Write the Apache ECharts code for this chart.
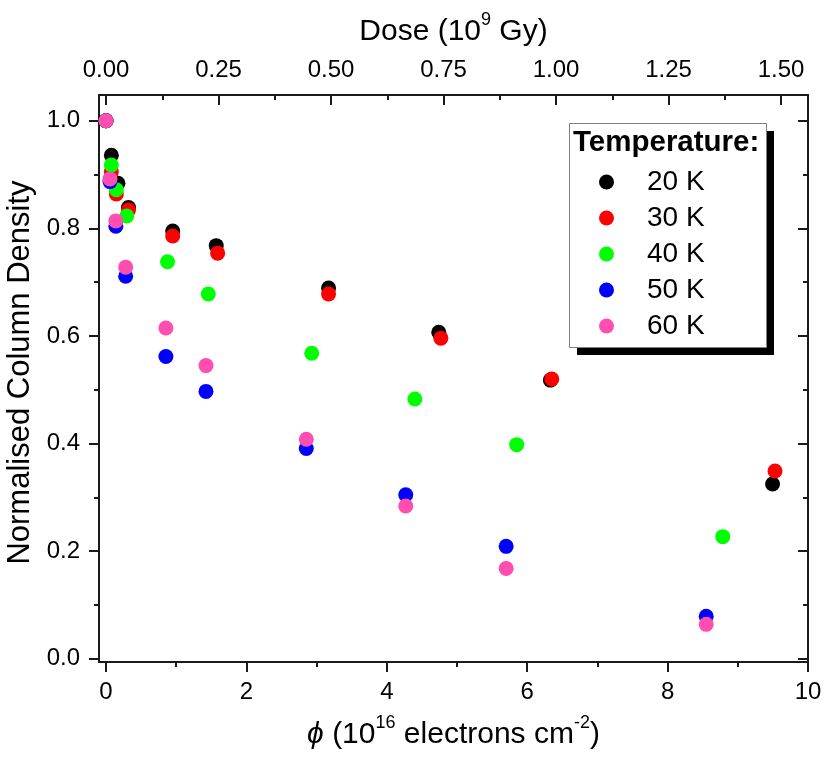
<!DOCTYPE html>
<html>
<head>
<meta charset="utf-8">
<script src="https://cdn.jsdelivr.net/npm/echarts@6/dist/echarts.min.js"></script>
<style>html,body{margin:0;padding:0;background:#fff;}#c{width:824px;height:758px;}</style>
</head>
<body>
<div id="c"></div>
<script>
// ---- data (phi in 1e16 electrons cm^-2, normalised column density) ----
var phi20 = [0, 0.076, 0.17, 0.32, 0.95, 1.57, 3.17, 4.74, 6.33, 9.495];
var val20 = [1.0, 0.936, 0.884, 0.839, 0.795, 0.768, 0.689, 0.607, 0.518, 0.325];
var phi30 = [0, 0.076, 0.147, 0.32, 0.95, 1.59, 3.17, 4.77, 6.35, 9.53];
var val30 = [1.0, 0.905, 0.864, 0.834, 0.786, 0.754, 0.678, 0.596, 0.520, 0.349];
var phi40 = [0, 0.076, 0.147, 0.295, 0.876, 1.457, 2.93, 4.40, 5.85, 8.786];
var val40 = [1.0, 0.918, 0.872, 0.823, 0.738, 0.678, 0.568, 0.483, 0.398, 0.227];
var phi50 = [0, 0.057, 0.14, 0.28, 0.853, 1.424, 2.853, 4.27, 5.70, 8.55];
var val50 = [1.0, 0.887, 0.804, 0.711, 0.562, 0.497, 0.391, 0.305, 0.209, 0.079];
var phi60 = [0, 0.057, 0.14, 0.28, 0.853, 1.424, 2.853, 4.27, 5.70, 8.55];
var val60 = [1.0, 0.892, 0.814, 0.728, 0.615, 0.545, 0.408, 0.284, 0.168, 0.064];

var seriesNames = ['20 K', '30 K', '40 K', '50 K', '60 K'];
var seriesColors = ['#000000', '#ff0000', '#00ff00', '#0000ff', '#ff4db0'];

// ---- tick labels ----
var xMajor = [0, 2, 4, 6, 8, 10];
var xMinor = [1, 3, 5, 7, 9];
var doseMajor = [0, 0.25, 0.5, 0.75, 1.0, 1.25, 1.5];
var doseMinor = [0.125, 0.375, 0.625, 0.875, 1.125, 1.375];
var yMajor = [0, 0.2, 0.4, 0.6, 0.8, 1.0];
var yMinor = [0.1, 0.3, 0.5, 0.7, 0.9];

var X_MIN = -0.1, X_MAX = 10;
var DOSE_PER_PHI = 0.156;
var Y_MIN = -0.006, Y_MAX = 1.048;

var FONT = "'Liberation Sans', Arial, Helvetica, sans-serif";
var lineS = {color: '#1a1a1a', width: 2};

function pairs(xs, ys) { return xs.map(function (x, i) { return [x, ys[i]]; }); }
var allX = [phi20, phi30, phi40, phi50, phi60];
var allY = [val20, val30, val40, val50, val60];

var series = seriesNames.map(function (n, i) {
  return {
    name: n, type: 'scatter', xAxisIndex: 0, yAxisIndex: 0,
    data: pairs(allX[i], allY[i]),
    symbol: 'circle', symbolSize: 15,
    itemStyle: {color: seriesColors[i], opacity: 1},
    emphasis: {disabled: true}
  };
});

// legend frame (decoration)
var LG = {x: 569, y: 123, w: 197, h: 224, sh: 8};

var chart = echarts.init(document.getElementById('c'), null, {renderer: 'canvas'});
var option = {
  backgroundColor: '#ffffff',
  animation: false,
  textStyle: {fontFamily: FONT},
  grid: {left: 99, right: 16, top: 95, bottom: 96, containLabel: false, outerBoundsMode: 'none'},
  xAxis: [
    {
      type: 'value', position: 'bottom', min: X_MIN, max: X_MAX,
      axisLine: {show: true, onZero: false, lineStyle: lineS},
      axisTick: {show: true, inside: false, length: 10, customValues: xMajor, lineStyle: lineS},
      axisLabel: {show: true, customValues: xMajor, fontSize: 24, color: '#000', margin: 18, fontFamily: FONT},
      splitLine: {show: false},
      name: '{i|ϕ} {n|(10}{s|16}{n| electrons cm}{s|-2}{n|)}',
      nameLocation: 'middle', nameGap: 52,
      nameTextStyle: {
        fontFamily: FONT, color: '#000', fontSize: 30,
        rich: {
          i: {fontSize: 30, fontStyle: 'italic', fontFamily: FONT, lineHeight: 36, verticalAlign: 'bottom'},
          n: {fontSize: 30, fontFamily: FONT, lineHeight: 36, verticalAlign: 'bottom'},
          s: {fontSize: 18, fontFamily: FONT, lineHeight: 20, verticalAlign: 'top'}
        }
      }
    },
    {
      type: 'value', position: 'bottom', min: X_MIN, max: X_MAX,
      axisLine: {show: false, onZero: false},
      axisTick: {show: true, inside: false, length: 5, customValues: xMinor, lineStyle: lineS},
      axisLabel: {show: false}, splitLine: {show: false}
    },
    {
      type: 'value', position: 'top', min: X_MIN * DOSE_PER_PHI, max: X_MAX * DOSE_PER_PHI,
      axisLine: {show: true, onZero: false, lineStyle: lineS},
      axisTick: {show: true, inside: true, length: 10, customValues: doseMajor, lineStyle: lineS},
      axisLabel: {show: true, customValues: doseMajor, fontSize: 24, color: '#000', margin: 13, fontFamily: FONT,
        formatter: function (v) { return v.toFixed(2); }},
      splitLine: {show: false},
      name: '{n|Dose (10}{s|9}{n| Gy)}',
      nameLocation: 'middle', nameGap: 48,
      nameTextStyle: {
        fontFamily: FONT, color: '#000', fontSize: 30,
        rich: {
          n: {fontSize: 30, fontFamily: FONT, lineHeight: 36, verticalAlign: 'bottom'},
          s: {fontSize: 18, fontFamily: FONT, lineHeight: 20, verticalAlign: 'top'}
        }
      }
    },
    {
      type: 'value', position: 'top', min: X_MIN * DOSE_PER_PHI, max: X_MAX * DOSE_PER_PHI,
      axisLine: {show: false, onZero: false},
      axisTick: {show: true, inside: true, length: 5, customValues: doseMinor, lineStyle: lineS},
      axisLabel: {show: false}, splitLine: {show: false}
    }
  ],
  yAxis: [
    {
      type: 'value', position: 'left', min: Y_MIN, max: Y_MAX,
      axisLine: {show: true, onZero: false, lineStyle: lineS},
      axisTick: {show: true, inside: false, length: 10, customValues: yMajor, lineStyle: lineS},
      axisLabel: {show: true, customValues: yMajor, fontSize: 24, color: '#000', margin: 19, fontFamily: FONT,
        formatter: function (v) { return v.toFixed(1); }},
      splitLine: {show: false},
      name: 'Normalised Column Density', nameLocation: 'middle', nameGap: 51, nameRotate: 90,
      nameTextStyle: {fontFamily: FONT, color: '#000', fontSize: 31, padding: [0, 0, 0, 12]}
    },
    {
      type: 'value', position: 'left', min: Y_MIN, max: Y_MAX,
      axisLine: {show: false, onZero: false},
      axisTick: {show: true, inside: false, length: 5, customValues: yMinor, lineStyle: lineS},
      axisLabel: {show: false}, splitLine: {show: false}
    },
    {
      type: 'value', position: 'right', min: Y_MIN, max: Y_MAX,
      axisLine: {show: true, onZero: false, lineStyle: lineS},
      axisTick: {show: true, inside: true, length: 10, customValues: yMajor, lineStyle: lineS},
      axisLabel: {show: false}, splitLine: {show: false}
    },
    {
      type: 'value', position: 'right', min: Y_MIN, max: Y_MAX,
      axisLine: {show: false, onZero: false},
      axisTick: {show: true, inside: true, length: 5, customValues: yMinor, lineStyle: lineS},
      axisLabel: {show: false}, splitLine: {show: false}
    }
  ],
  legend: {
    show: true, orient: 'vertical', left: LG.x, top: LG.y,
    data: seriesNames,
    icon: 'circle', itemWidth: 15, itemHeight: 15, itemGap: 6,
    padding: [44, 59, 6, 30],
    backgroundColor: 'transparent', borderWidth: 0,
    textStyle: {fontFamily: FONT, fontSize: 28, color: '#000', lineHeight: 30, padding: [0, 0, 0, 28]},
    selectedMode: false,
    z: 10
  },
  graphic: [
    {
      type: 'rect', z: 5, silent: true,
      shape: {x: LG.x + LG.sh, y: LG.y + LG.sh, width: LG.w, height: LG.h},
      style: {fill: '#000000'}
    },
    {
      type: 'rect', z: 6, silent: true,
      shape: {x: LG.x + 0.5, y: LG.y + 0.5, width: LG.w, height: LG.h},
      style: {fill: '#ffffff', stroke: '#808080', lineWidth: 1}
    },
    {
      type: 'text', left: 573, top: 128, z: 100,
      style: {text: 'Temperature:', font: "bold 29.5px 'Liberation Sans', Arial, sans-serif", fill: '#000'}
    }
  ],
  series: series
};
chart.setOption(option);
</script>
</body>
</html>
